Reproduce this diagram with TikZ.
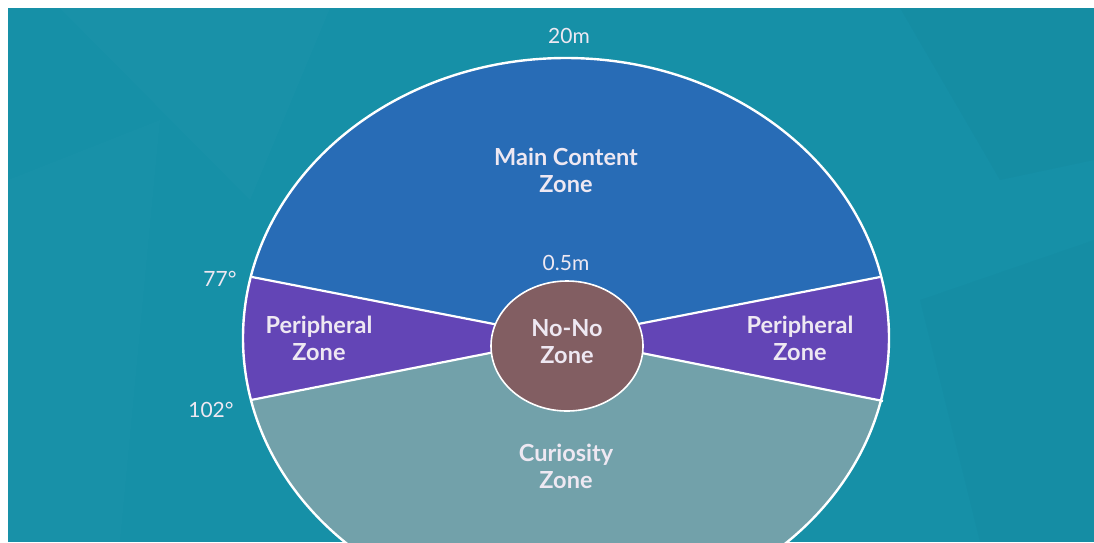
\documentclass[tikz,border=0pt]{standalone}
\usepackage{fontspec}
\setmainfont{Lato}
\usetikzlibrary{calc,shapes.geometric}
\definecolor{bgteal}{HTML}{1690A7}
\definecolor{maincol}{HTML}{286CB6}
\definecolor{pericol}{HTML}{6345B6}
\definecolor{curcol}{HTML}{72A1AA}
\definecolor{nonocol}{HTML}{825E62}
\definecolor{labelcol}{HTML}{EEE8F2}
\begin{document}
\begin{tikzpicture}[x=1pt,y=-1pt,
  zonelabel/.style={text=labelcol,font=\bfseries\fontsize{23.5}{27}\selectfont,align=center,inner sep=0pt},
  measure/.style={text=labelcol,font=\fontsize{21}{24}\selectfont,inner sep=0pt},
  divider/.style={draw=white,line width=2.2pt}]
  % canvas and backdrop
  \useasboundingbox (0,0) rectangle (1094,542);
  \fill[white] (0,0) rectangle (1094,542);
  \fill[bgteal] (8,8) rectangle (1094,542);
  % faint facets in the backdrop
  \fill[white,opacity=0.015] (60,8) -- (330,8) -- (250,200) -- cycle;
  \fill[black,opacity=0.02] (900,8) -- (1094,8) -- (1094,160) -- (1000,180) -- cycle;
  \fill[white,opacity=0.012] (8,180) -- (160,120) -- (120,542) -- (8,542) -- cycle;
  \fill[black,opacity=0.015] (920,300) -- (1094,240) -- (1094,542) -- (980,542) -- cycle;

  \coordinate (C) at (566,338);
  % sector directions (towards 77 and 102 degree marks)
  \coordinate (ul) at (252,277);
  \coordinate (ll) at (251,400);
  \coordinate (ur) at (880,277);
  \coordinate (lr) at (883,401);

  \begin{scope}
    \clip (8,8) rectangle (1094,542);
    \fill[curcol] (C) ellipse [x radius=323, y radius=280];
    \begin{scope}
      \clip (C) ellipse [x radius=323, y radius=280];
      \fill[maincol] (C) -- ($(C)!1.5!(ul)$) -- (0,-200) -- (1200,-200) -- ($(C)!1.5!(ur)$) -- cycle;
      \fill[pericol] (C) -- ($(C)!1.5!(ul)$) -- ($(C)!1.5!(ll)$) -- cycle;
      \fill[pericol] (C) -- ($(C)!1.5!(ur)$) -- ($(C)!1.5!(lr)$) -- cycle;
    \end{scope}
    \draw[divider] (C) -- (ul);
    \draw[divider] (C) -- (ll);
    \draw[divider] (C) -- (ur);
    \draw[divider] (C) -- (lr);
    \draw[white,line width=2.4pt] (C) ellipse [x radius=323, y radius=280];
  \end{scope}

  % central zone
  \node[ellipse,draw=white,line width=1.6pt,fill=nonocol,minimum width=152pt,minimum height=130pt,inner sep=0pt] (nono) at (567,346) {};
  \node[zonelabel] (nonotext) at (567,342) {No-No\\Zone};

  % zone labels
  \node[zonelabel] (main) at (566,170) {Main Content\\Zone};
  \node[zonelabel] (perileft) at (319,338) {Peripheral\\Zone};
  \node[zonelabel] (periright) at (800,338) {Peripheral\\Zone};
  \node[zonelabel] (curio) at (566,466) {Curiosity\\Zone};

  % measurements
  \node[measure] (far) at (569,36) {20m};
  \node[measure] (near) at (566,263) {0.5m};
  \node[measure] (a77) at (220,279) {77°};
  \node[measure] (a102) at (211,410) {102°};
\end{tikzpicture}
\end{document}
